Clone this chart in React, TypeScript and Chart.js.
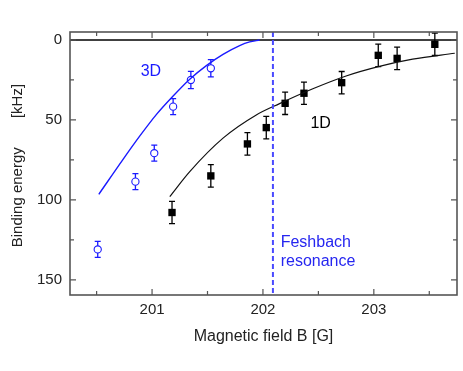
import React, { useEffect, useRef } from 'react';
import { Chart, registerables } from 'chart.js';

Chart.register(...registerables);

// 3D measured binding energies (open circles)
const B_3D = [200.51, 200.85, 201.02, 201.19, 201.35, 201.53];
const E_3D = [131, 88.6, 70.8, 41.7, 25, 17.7];
const ERR_3D = [5, 5, 5, 5, 5.4, 5.4];

// 1D measured binding energies (filled squares)
const B_1D = [201.18, 201.53, 201.86, 202.03, 202.2, 202.37, 202.71, 203.04, 203.21, 203.55];
const E_1D = [107.9, 85, 65, 54.8, 39.6, 33.3, 26.7, 9.6, 11.5, 2.7];
const ERR_1D = [7, 7, 7, 7, 7, 7, 7, 7, 7, 7];

// theory curves
const FIT_3D_B = [200.52, 200.74, 200.89, 201.04, 201.19, 201.34, 201.49, 201.64, 201.79, 201.88, 201.97];
const FIT_3D_E = [96.5, 74.5, 60, 46.5, 35, 24.5, 16, 9, 3.5, 1.2, 0];
const FIT_1D_B = [201.16, 201.34, 201.64, 201.94, 202.15, 202.45, 202.75, 203.05, 203.35, 203.73];
const FIT_1D_E = [97.9, 82.3, 61.4, 46.9, 39.8, 30.5, 22.5, 16.5, 12, 8.3];

const FESHBACH_B = 202.09;

const X_MIN = 200.26;
const X_MAX = 203.75;
const Y_MIN = -5;
const Y_MAX = 159.5;
const X_MAJOR = [201, 202, 203];
const X_MINOR = [200.5, 201.5, 202.5, 203.5];
const Y_MAJOR = [0, 50, 100, 150];
const Y_MINOR = [25, 75, 125];

const LABEL_3D = { text: '3D', b: 200.99, e: 20 };
const LABEL_1D = { text: '1D', b: 202.52, e: 52.5 };
const LABEL_FESH = { lines: ['Feshbach', 'resonance'], b: 202.16, e: 126.5, step: 12 };

const FONT = '"Liberation Sans", Arial, Helvetica, sans-serif';
const BLUE = '#1a1aff';
const FRAME = '#555555';

const pts = (xs: number[], ys: number[]) => xs.map((x, i) => ({ x, y: ys[i] }));

const figPlugin = {
  id: 'figPlugin',
  beforeDatasetsDraw(chart: any) {
    const { ctx, chartArea: a, scales } = chart;
    const x = scales.x, y = scales.y;
    ctx.save();
    // zero line
    const y0 = y.getPixelForValue(0);
    ctx.strokeStyle = '#000';
    ctx.lineWidth = 1.5;
    ctx.beginPath();
    ctx.moveTo(a.left, y0);
    ctx.lineTo(a.right, y0);
    ctx.stroke();
    // error bars
    const drawErr = (bs: number[], es: number[], errs: number[], color: string) => {
      ctx.strokeStyle = color;
      ctx.lineWidth = 1.3;
      bs.forEach((b, i) => {
        const px = x.getPixelForValue(b);
        const t = y.getPixelForValue(es[i] - errs[i]);
        const bt = y.getPixelForValue(es[i] + errs[i]);
        ctx.beginPath();
        ctx.moveTo(px, t);
        ctx.lineTo(px, bt);
        ctx.moveTo(px - 3, t);
        ctx.lineTo(px + 3, t);
        ctx.moveTo(px - 3, bt);
        ctx.lineTo(px + 3, bt);
        ctx.stroke();
      });
    };
    drawErr(B_3D, E_3D, ERR_3D, BLUE);
    drawErr(B_1D, E_1D, ERR_1D, '#000');
    ctx.restore();
  },
  afterDatasetsDraw(chart: any) {
    const { ctx, chartArea: a, scales } = chart;
    const x = scales.x, y = scales.y;
    ctx.save();
    // Feshbach dashed line
    const fx = x.getPixelForValue(FESHBACH_B);
    ctx.strokeStyle = '#4a4aff';
    ctx.lineWidth = 2;
    ctx.setLineDash([5, 3]);
    ctx.beginPath();
    ctx.moveTo(fx, a.top);
    ctx.lineTo(fx, a.bottom);
    ctx.stroke();
    ctx.setLineDash([]);
    // frame
    ctx.strokeStyle = FRAME;
    ctx.lineWidth = 1.6;
    ctx.strokeRect(a.left, a.top, a.right - a.left, a.bottom - a.top);
    // ticks (inward, mirrored)
    ctx.lineWidth = 1.2;
    ctx.beginPath();
    const xt = (vals: number[], len: number) => vals.forEach((v) => {
      const px = x.getPixelForValue(v);
      ctx.moveTo(px, a.bottom);
      ctx.lineTo(px, a.bottom - len);
      ctx.moveTo(px, a.top);
      ctx.lineTo(px, a.top + len);
    });
    const yt = (vals: number[], len: number) => vals.forEach((v) => {
      const py = y.getPixelForValue(v);
      ctx.moveTo(a.left, py);
      ctx.lineTo(a.left + len, py);
      ctx.moveTo(a.right, py);
      ctx.lineTo(a.right - len, py);
    });
    xt(X_MAJOR, 6);
    xt(X_MINOR, 4);
    yt(Y_MAJOR, 6);
    yt(Y_MINOR, 4);
    ctx.stroke();
    // labels
    ctx.font = `16px ${FONT}`;
    ctx.textBaseline = 'middle';
    ctx.textAlign = 'center';
    ctx.fillStyle = BLUE;
    ctx.fillText(LABEL_3D.text, x.getPixelForValue(LABEL_3D.b), y.getPixelForValue(LABEL_3D.e));
    ctx.fillStyle = '#000';
    ctx.fillText(LABEL_1D.text, x.getPixelForValue(LABEL_1D.b), y.getPixelForValue(LABEL_1D.e));
    ctx.textAlign = 'left';
    ctx.fillStyle = '#2626f0';
    LABEL_FESH.lines.forEach((s, i) => {
      ctx.fillText(s, x.getPixelForValue(LABEL_FESH.b), y.getPixelForValue(LABEL_FESH.e + i * LABEL_FESH.step));
    });
    ctx.restore();
  },
};

export default function App() {
  const ref = useRef<HTMLCanvasElement | null>(null);
  useEffect(() => {
    if (!ref.current) return;
    const chart = new Chart(ref.current, {
      type: 'scatter',
      data: {
        datasets: [
          {
            label: '3D fit',
            data: pts(FIT_3D_B, FIT_3D_E),
            showLine: true,
            borderColor: BLUE,
            borderWidth: 1.4,
            pointRadius: 0,
            cubicInterpolationMode: 'monotone',
          },
          {
            label: '1D fit',
            data: pts(FIT_1D_B, FIT_1D_E),
            showLine: true,
            borderColor: '#111',
            borderWidth: 1.2,
            pointRadius: 0,
            cubicInterpolationMode: 'monotone',
          },
          {
            label: '3D',
            data: pts(B_3D, E_3D),
            pointStyle: 'circle',
            pointRadius: 3.6,
            borderWidth: 1.1,
            borderColor: BLUE,
            backgroundColor: '#fff',
          },
          {
            label: '1D',
            data: pts(B_1D, E_1D),
            pointStyle: 'rect',
            pointRadius: 5.2,
            borderWidth: 0,
            borderColor: '#000',
            backgroundColor: '#000',
          },
        ],
      },
      options: {
        responsive: false,
        animation: false,
        events: [],
        layout: { padding: { top: 32, right: 6, left: 0, bottom: 0 } },
        plugins: { legend: { display: false }, tooltip: { enabled: false } },
        scales: {
          x: {
            type: 'linear',
            min: X_MIN,
            max: X_MAX,
            grid: { display: false, drawTicks: false },
            border: { display: false },
            ticks: {
              stepSize: 1,
              includeBounds: false,
              padding: 6,
              color: '#222',
              font: { family: FONT, size: 15 },
              maxRotation: 0,
            },
            title: {
              display: true,
              text: 'Magnetic field B [G]',
              color: '#222',
              font: { family: FONT, size: 16 },
              padding: { top: 0, bottom: 25 },
            },
            afterFit: (s: any) => { s.height = 76; },
          },
          y: {
            type: 'linear',
            reverse: true,
            min: Y_MIN,
            max: Y_MAX,
            grid: { display: false, drawTicks: false },
            border: { display: false },
            ticks: {
              stepSize: 50,
              includeBounds: false,
              padding: 8,
              color: '#222',
              font: { family: FONT, size: 15 },
            },
            title: {
              display: true,
              text: 'Binding energy       [kHz] ',
              color: '#222',
              font: { family: FONT, size: 15 },
              padding: { top: 9, bottom: 0 },
            },
            afterFit: (s: any) => { s.width = 70; },
          },
        },
      },
      plugins: [figPlugin],
    } as any);
    return () => chart.destroy();
  }, []);
  return (
    <div style={{ position: 'fixed', left: 0, top: 0, width: 463, height: 371, background: '#fff' }}>
      <canvas ref={ref} width={463} height={371} style={{ display: 'block' }} />
    </div>
  );
}
